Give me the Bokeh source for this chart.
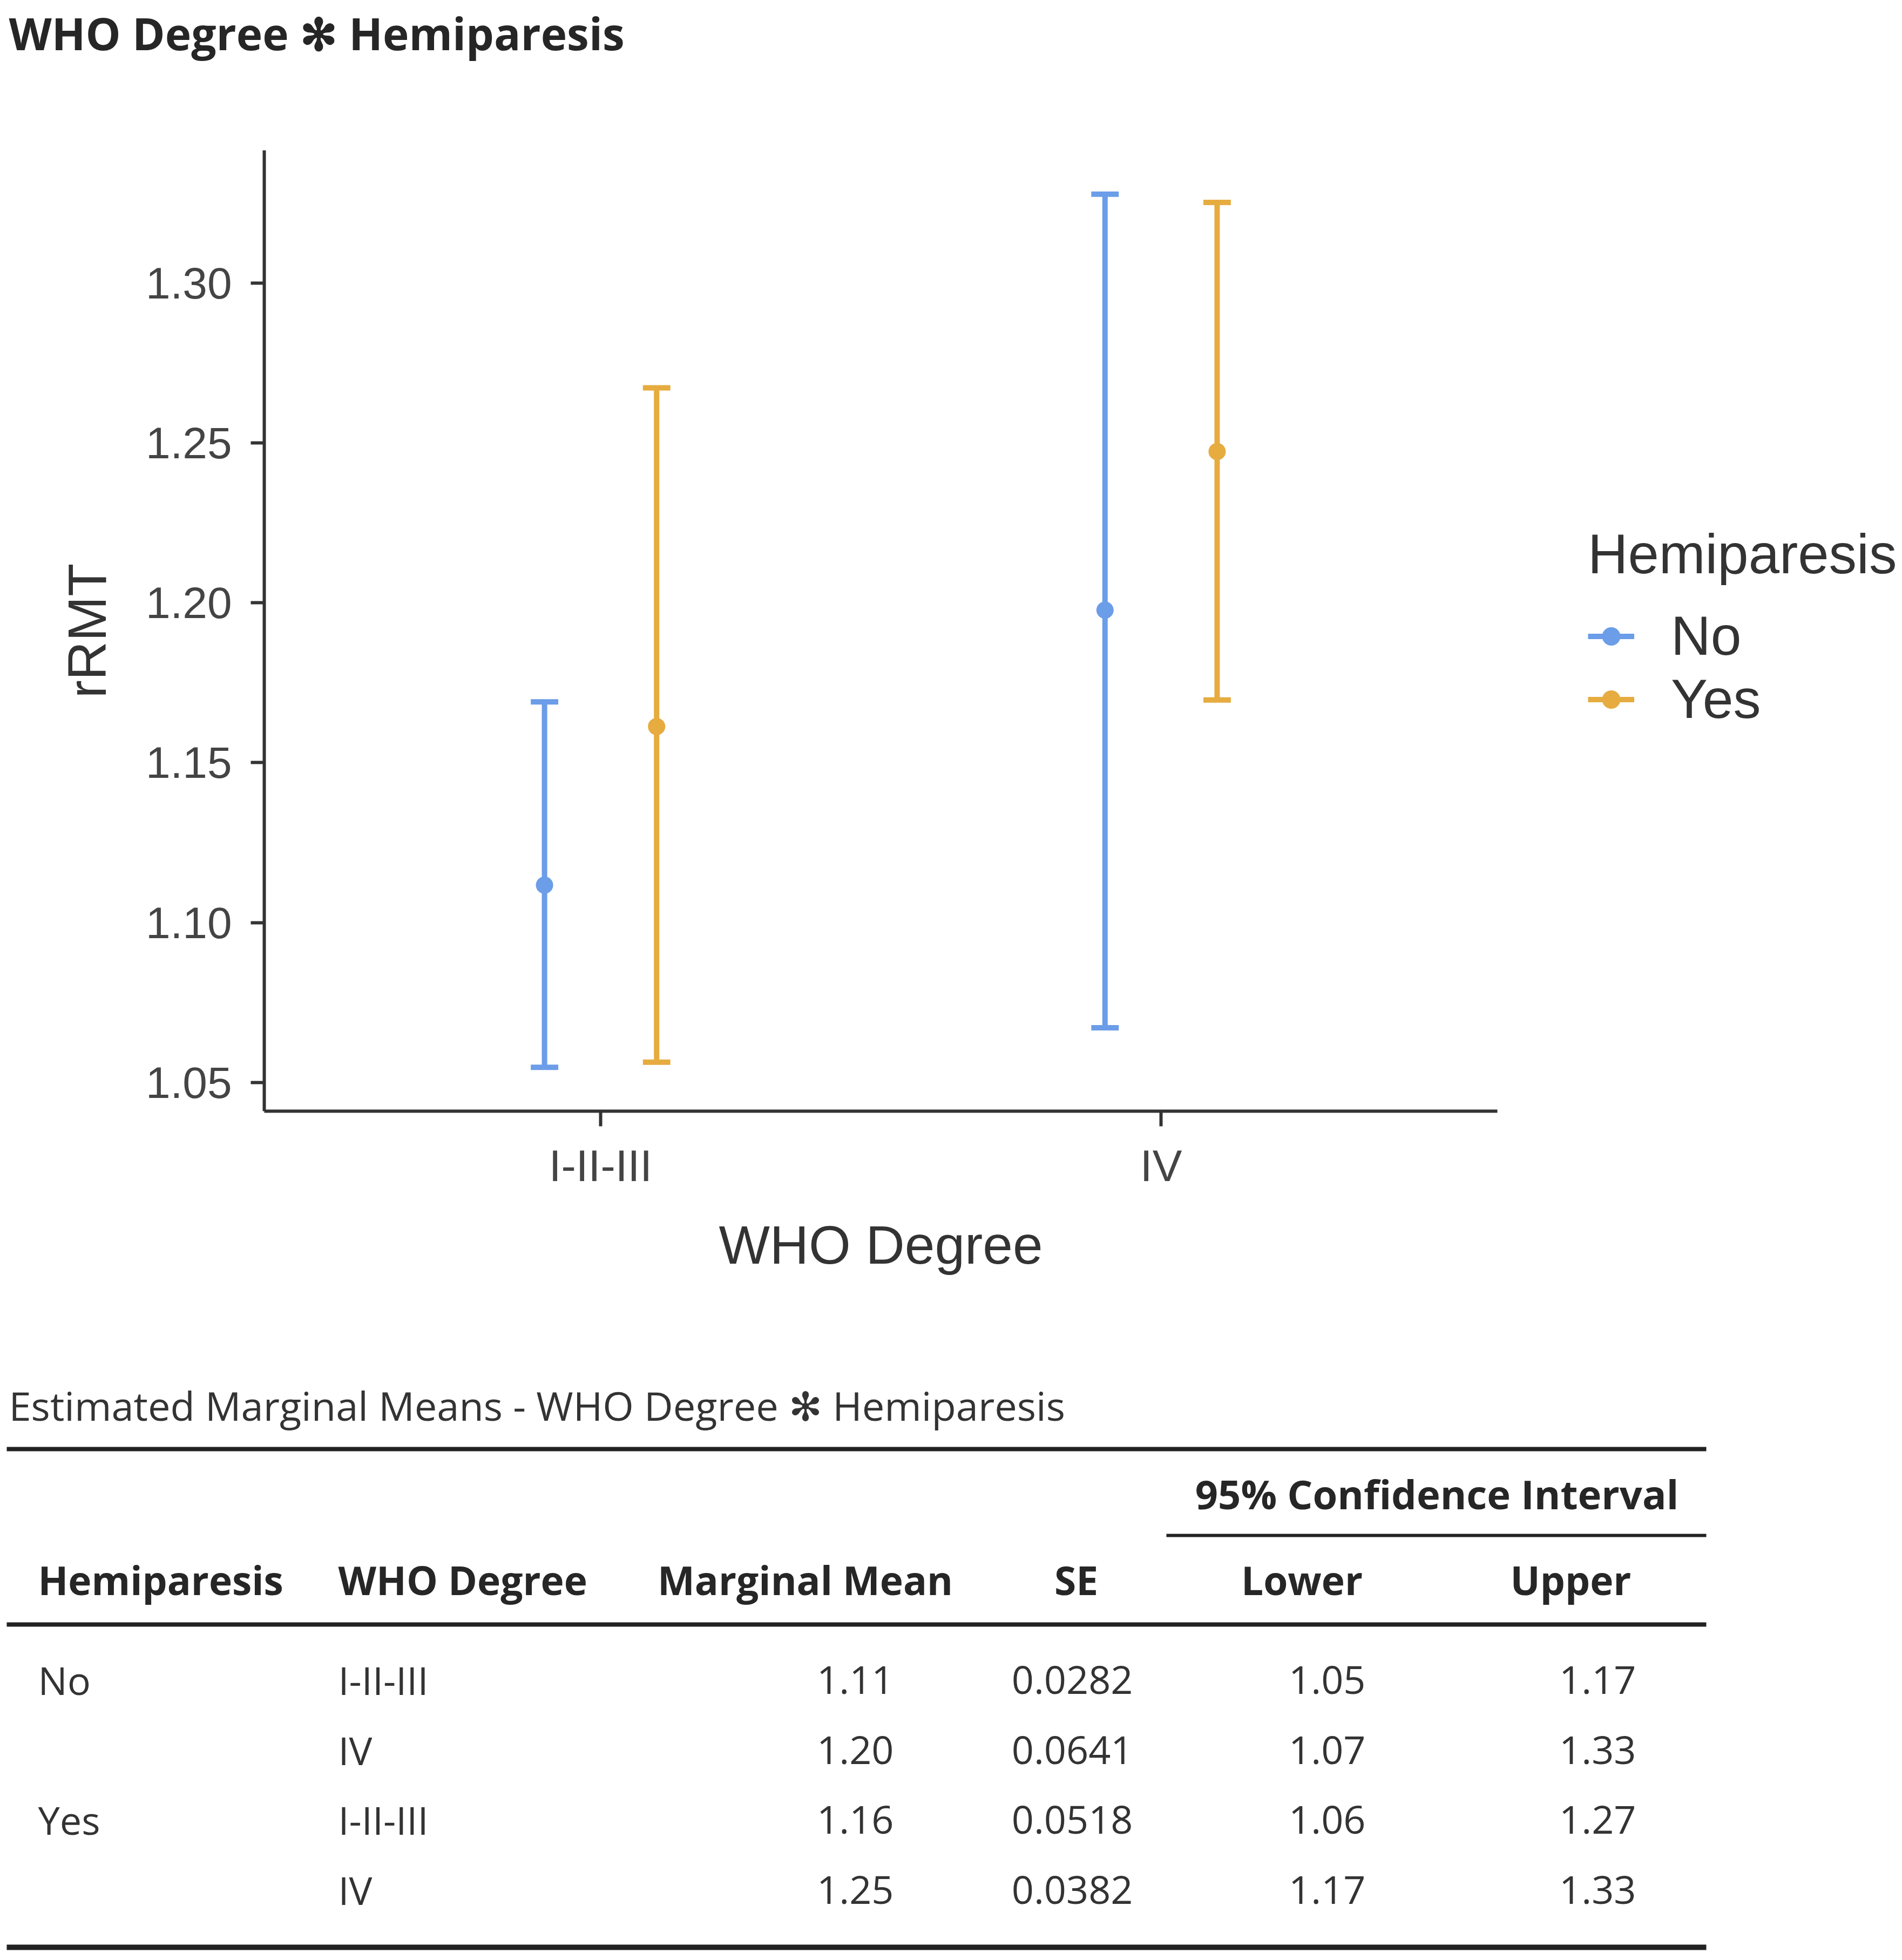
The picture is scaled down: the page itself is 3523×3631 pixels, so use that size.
from bokeh.plotting import figure
from bokeh.models import ColumnDataSource, Range1d, FixedTicker, Legend, LegendItem, PrintfTickFormatter
from bokeh.layouts import column
from bokeh.embed import file_html
from bokeh.resources import INLINE
from bokeh.core.properties import value

# ---------------- data ----------------
who_degree = ["I-II-III", "IV"]
hemiparesis = ["No", "Yes"]
row_hemi = ["No", "No", "Yes", "Yes"]
row_who = ["I-II-III", "IV", "I-II-III", "IV"]
marginal_mean = [1.1117, 1.1977, 1.1613, 1.2473]
se = [0.0282, 0.0641, 0.0518, 0.0382]
ci_lower = [1.0547, 1.0671, 1.0563, 1.1696]
ci_upper = [1.1690, 1.3278, 1.2672, 1.3252]
y_ticks = [1.05, 1.10, 1.15, 1.20, 1.25, 1.30]
colors = {"No": "#6B9DE8", "Yes": "#E6AC40"}

title_text = "WHO Degree \u273b Hemiparesis"
caption_text = "Estimated Marginal Means - WHO Degree \u273b Hemiparesis"
ci_header = "95% Confidence Interval"
headers = ["Hemiparesis", "WHO Degree", "Marginal Mean", "SE", "Lower", "Upper"]

W = 3507
TEXT = "#333333"
DARK = "#262626"
CHART_FONT = "Liberation Sans"
TABLE_FONT = "Open Sans"

# ---------------- title ----------------
TH = 170
pt = figure(width=W, height=TH, x_range=Range1d(0, W), y_range=Range1d(TH, 0),
            output_backend="svg", toolbar_location=None, min_border=0)
pt.frame_align = False
pt.axis.visible = False
pt.grid.visible = False
pt.outline_line_color = None
pt.text(x=[16], y=[60], text=[title_text], text_font=value(TABLE_FONT), text_font_style="bold",
        text_font_size="82px", text_color=DARK, text_baseline="middle", text_align="left")

# ---------------- chart ----------------
CH = 2280
p = figure(width=W, height=CH, x_range=Range1d(0.4, 2.6), y_range=Range1d(1.0410, 1.3415),
           output_backend="svg", toolbar_location=None,
           min_border_left=489, min_border_right=W - 2777, min_border_top=278 - TH,
           min_border_bottom=CH - (278 - TH) - 1780)
p.frame_align = False
p.grid.visible = False
p.outline_line_color = None
p.background_fill_color = "white"

dodge = {"No": -0.1, "Yes": 0.1}
cap = 0.0245
renderers = {}
for h in hemiparesis:
    idx = [i for i, rh in enumerate(row_hemi) if rh == h]
    xs = [who_degree.index(row_who[i]) + 1 + dodge[h] for i in idx]
    src = ColumnDataSource(dict(
        x=xs,
        x0=[x - cap for x in xs], x1=[x + cap for x in xs],
        mean=[marginal_mean[i] for i in idx],
        lo=[ci_lower[i] for i in idx], hi=[ci_upper[i] for i in idx]))
    r_bar = p.segment(x0="x", y0="lo", x1="x", y1="hi", source=src, line_color=colors[h], line_width=10)
    p.segment(x0="x0", y0="lo", x1="x1", y1="lo", source=src, line_color=colors[h], line_width=10)
    p.segment(x0="x0", y0="hi", x1="x1", y1="hi", source=src, line_color=colors[h], line_width=10)
    r_pt = p.scatter(x="x", y="mean", source=src, size=32, fill_color=colors[h], line_color=None)
    renderers[h] = [r_bar, r_pt]

for ax in (p.xaxis, p.yaxis):
    ax.axis_line_width = 6
    ax.axis_line_color = TEXT
    ax.major_tick_line_width = 6
    ax.major_tick_line_color = TEXT
    ax.major_tick_in = 0
    ax.minor_tick_line_color = None
    ax.major_label_text_font = CHART_FONT
    ax.major_label_text_font_size = "82px"
    ax.major_label_text_color = "#444444"
    ax.axis_label_text_font = CHART_FONT
    ax.axis_label_text_font_size = "100px"
    ax.axis_label_text_font_style = "normal"
    ax.axis_label_text_color = TEXT

p.xaxis.ticker = FixedTicker(ticks=[i + 1 for i in range(len(who_degree))])
p.xaxis.major_label_overrides = {i + 1: c for i, c in enumerate(who_degree)}
p.xaxis.major_tick_out = 28
p.xaxis.major_label_standoff = 27
p.xaxis.axis_label = "WHO Degree"
p.xaxis.axis_label_standoff = 42

p.yaxis.ticker = FixedTicker(ticks=y_ticks)
p.yaxis.formatter = PrintfTickFormatter(format="%.2f")
p.yaxis.major_tick_out = 25
p.yaxis.major_label_standoff = 35
p.yaxis.axis_label = "rRMT"
p.yaxis.axis_label_standoff = 50

legend = Legend(items=[LegendItem(label=h, renderers=renderers[h]) for h in hemiparesis],
                title="Hemiparesis", location=(168, 704),
                padding=0, margin=0, spacing=0, border_line_color=None, background_fill_alpha=0,
                glyph_width=86, glyph_height=85, label_standoff=68,
                label_text_font=CHART_FONT, label_text_font_size="102px", label_text_color=TEXT,
                title_text_font=CHART_FONT, title_text_font_size="103px", title_text_color=TEXT,
                title_text_font_style="normal", title_standoff=34)
p.add_layout(legend, "right")

# ---------------- table ----------------
T0 = TH + CH
TBH = 3615 - TH - CH
tb = figure(width=W, height=TBH, x_range=Range1d(0, W), y_range=Range1d(T0 + TBH, T0),
            output_backend="svg", toolbar_location=None, min_border=0)
tb.frame_align = False
tb.axis.visible = False
tb.grid.visible = False
tb.outline_line_color = None

# rules
tb.segment(x0=[12, 2160, 12, 12], y0=[2684, 2844, 3009, 3607], x1=[3160, 3160, 3160, 3160],
           y1=[2684, 2844, 3009, 3607], line_width=[8, 6, 8, 10], line_color="#222222")

tb.text(x=[16], y=[2603], text=[caption_text], text_font=value(TABLE_FONT), text_font_size="74px",
        text_color=TEXT, text_baseline="middle", text_align="left")
tb.text(x=[2661], y=[2767], text=[ci_header], text_font=value(TABLE_FONT), text_font_style="bold",
        text_font_size="74px", text_color=DARK, text_baseline="middle", text_align="center")

hx = [70, 626, 1491, 1993, 2411, 2909]
ha = ["left", "left", "center", "center", "center", "center"]
tb.text(x=hx, y=[2926] * 6, text=headers, text_font=value(TABLE_FONT), text_font_style="bold",
        text_font_size="73px", text_color=DARK, text_baseline="middle", text_align=ha)

row_y = [3111, 3241, 3370, 3500]
col1 = [h if (i == 0 or row_hemi[i - 1] != h) else "" for i, h in enumerate(row_hemi)]
body = dict(
    c1=col1, c2=row_who,
    c3=[f"{v:.2f}" for v in marginal_mean], c4=[f"{v:.4f}" for v in se],
    c5=[f"{v:.2f}" for v in ci_lower], c6=[f"{v:.2f}" for v in ci_upper],
    y=row_y)
bsrc = ColumnDataSource(body)
for col, x, al in [("c1", 70, "left"), ("c2", 626, "left"), ("c3", 1655, "right"),
                   ("c4", 2098, "right"), ("c5", 2529, "right"), ("c6", 3030, "right")]:
    tb.text(x=x, y="y", text=col, source=bsrc, text_font=value(TABLE_FONT), text_font_size="72px",
            text_color=TEXT, text_baseline="middle", text_align=al)

layout = column(pt, p, tb, spacing=0)
open("out.html", "w").write(file_html(layout, INLINE))
